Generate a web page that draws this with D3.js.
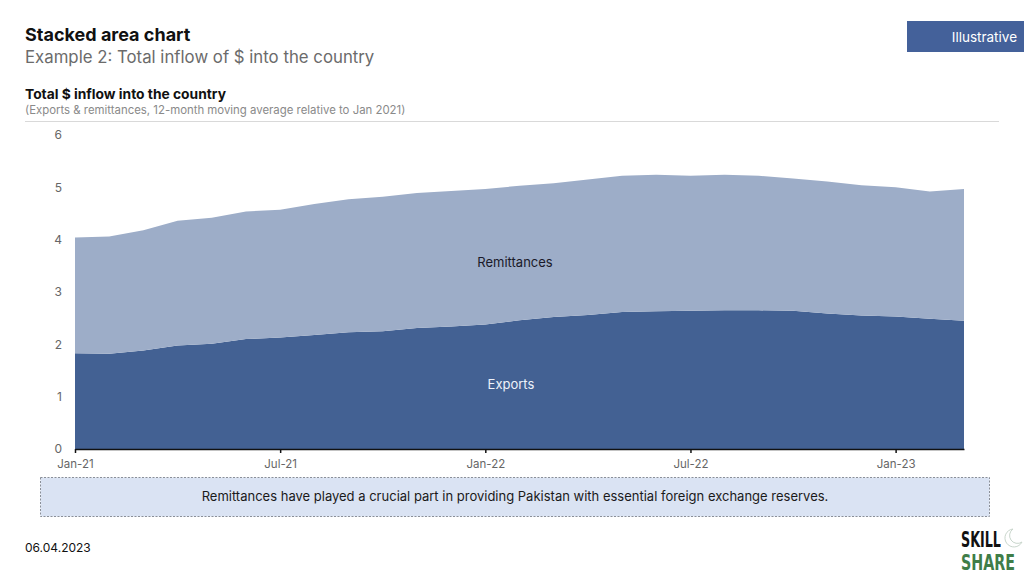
<!DOCTYPE html>
<html>
<head>
<meta charset="utf-8">
<script src="https://cdn.jsdelivr.net/npm/d3@7"></script>
<style>
  html, body { margin: 0; padding: 0; background: #fff; }
  svg { display: block; font-family: Inter, "Open Sans", sans-serif; }
</style>
</head>
<body>
<svg id="chart" width="1024" height="576"></svg>
<script>
// ---- data ----
const months = ["Jan-21","Feb-21","Mar-21","Apr-21","May-21","Jun-21","Jul-21","Aug-21","Sep-21",
  "Oct-21","Nov-21","Dec-21","Jan-22","Feb-22","Mar-22","Apr-22","May-22","Jun-22","Jul-22",
  "Aug-22","Sep-22","Oct-22","Nov-22","Dec-22","Jan-23","Feb-23","Mar-23"];
const exportsVals = [1.83,1.82,1.88,1.98,2.01,2.10,2.13,2.18,2.23,2.25,2.31,2.34,2.38,2.46,2.52,2.56,2.62,2.63,2.64,
  2.65,2.65,2.64,2.59,2.55,2.53,2.49,2.45];
const totalVals = [4.04,4.06,4.18,4.36,4.42,4.54,4.57,4.68,4.77,4.82,4.89,4.93,4.97,5.03,5.08,5.15,5.22,5.24,5.22,
  5.24,5.22,5.17,5.11,5.04,5.00,4.92,4.97];
const remittancesVals = totalVals.map((t, i) => +(t - exportsVals[i]).toFixed(2));
const seriesKeys = ["Exports", "Remittances"];
const yTicks = [0,1,2,3,4,5,6];
const xTickLabels = ["Jan-21","Jul-21","Jan-22","Jul-22","Jan-23"];

const rows = months.map((m, i) => ({ idx: i, month: m, Exports: exportsVals[i], Remittances: remittancesVals[i] }));

const svg = d3.select("#chart");
const colors = { Exports: "#436193", Remittances: "#9dadc8" };

// ---- header ----
svg.append("text").attr("x", 25).attr("y", 41).attr("font-size", 18).attr("font-weight", 700)
  .attr("fill", "#111").text("Stacked area chart");
svg.append("text").attr("x", 25).attr("y", 63).attr("font-size", 16.8).attr("fill", "#6b6b6b")
  .text("Example 2: Total inflow of $ into the country");

svg.append("rect").attr("x", 907).attr("y", 21).attr("width", 117).attr("height", 31).attr("fill", "#44619a");
svg.append("text").attr("x", 1017).attr("y", 42).attr("text-anchor", "end").attr("font-size", 13.5)
  .attr("fill", "#fff").text("Illustrative");

svg.append("text").attr("x", 25).attr("y", 99).attr("font-size", 13.8).attr("font-weight", 700)
  .attr("fill", "#111").text("Total $ inflow into the country");
svg.append("text").attr("x", 25).attr("y", 114).attr("font-size", 11.4).attr("fill", "#8a8a8a")
  .text("(Exports & remittances, 12-month moving average relative to Jan 2021)");
svg.append("line").attr("x1", 25).attr("x2", 999).attr("y1", 121.5).attr("y2", 121.5)
  .attr("stroke", "#d9d9d9").attr("stroke-width", 1);

// ---- scales ----
const x = d3.scaleLinear().domain([0, months.length - 1]).range([75, 964]);
const y = d3.scaleLinear().domain([0, 6]).range([449, 135]);

const stack = d3.stack().keys(seriesKeys);
const layers = stack(rows);
const area = d3.area().x(d => x(d.data.idx)).y0(d => y(d[0])).y1(d => y(d[1])).curve(d3.curveLinear);

svg.append("g").selectAll("path").data(layers).join("path")
  .attr("d", area).attr("fill", d => colors[d.key]);

// ---- axes ----
const yAxis = d3.axisLeft(y).tickValues(yTicks).tickSize(0).tickPadding(0).tickFormat(d3.format("d"));
const gy = svg.append("g").attr("transform", "translate(62,0)").call(yAxis);
gy.select(".domain").remove();
gy.selectAll("text").attr("font-size", 12).attr("fill", "#666").attr("font-family", "Inter, sans-serif");

const xTickIdx = xTickLabels.map(s => months.indexOf(s));
const xAxis = d3.axisBottom(x).tickValues(xTickIdx).tickSize(4).tickSizeOuter(0).tickFormat(i => months[i]);
const gx = svg.append("g").attr("transform", "translate(0,449)").call(xAxis);
gx.select(".domain").attr("stroke", "#111").attr("stroke-width", 1.5);
gx.selectAll(".tick line").attr("stroke", "#111").attr("stroke-width", 1.5);
gx.selectAll("text").attr("font-size", 11.5).attr("fill", "#666").attr("dy", "1.05em")
  .attr("font-family", "Inter, sans-serif");

// ---- series labels ----
svg.append("text").attr("x", 515).attr("y", 267).attr("text-anchor", "middle").attr("font-size", 13)
  .attr("fill", "#1a1a2a").text("Remittances");
svg.append("text").attr("x", 511).attr("y", 389).attr("text-anchor", "middle").attr("font-size", 13)
  .attr("fill", "#eef2fa").text("Exports");

// ---- callout ----
svg.append("rect").attr("x", 40.5).attr("y", 477.5).attr("width", 949).attr("height", 39)
  .attr("fill", "#dae3f3").attr("stroke", "#8a8f98").attr("stroke-width", 1).attr("stroke-dasharray", "2,1.5");
svg.append("text").attr("x", 515).attr("y", 501).attr("text-anchor", "middle").attr("font-size", 13)
  .attr("fill", "#1a1a1a")
  .text("Remittances have played a crucial part in providing Pakistan with essential foreign exchange reserves.");

// ---- footer ----
svg.append("text").attr("x", 25).attr("y", 552).attr("font-size", 12).attr("fill", "#111").text("06.04.2023");

function logoWord(word, yPos, width, color) {
  const g = svg.append("g");
  const t = g.append("text").attr("x", 0).attr("y", 0).attr("font-size", 21).attr("font-weight", 700)
    .attr("font-family", "'Liberation Sans Narrow', 'DejaVu Sans Condensed', sans-serif")
    .attr("fill", color).text(word);
  const w = t.node().getComputedTextLength() || width;
  g.attr("transform", `translate(961,${yPos}) scale(${width / w},1)`);
}
logoWord("SKILL", 547, 40, "#111");
logoWord("SHARE", 570, 54, "#3f7d48");
// small crescent mark
svg.append("path").attr("d", "M1013,529 a9,9 0 1,0 9,13 a7,7 0 1,1 -9,-13 z")
  .attr("fill", "none").attr("stroke", "#c9d6cc").attr("stroke-width", 1);
</script>
</body>
</html>
